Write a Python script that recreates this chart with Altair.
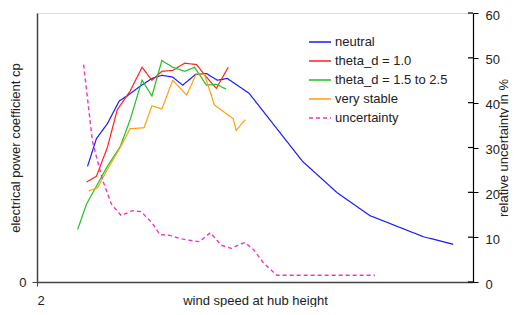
import altair as alt
import pandas as pd

# wind speed (m/s) and power coefficient cp per series
neutral_ws = [4.55, 5.0, 5.55, 6.15, 6.55, 7.15, 7.8, 8.3, 8.85, 9.35, 10.0, 10.55, 11.1, 11.6, 12.7, 15.4, 17.15, 18.8, 21.5, 23.0]
neutral_cp = [0.258, 0.320, 0.353, 0.404, 0.415, 0.435, 0.454, 0.461, 0.457, 0.439, 0.463, 0.465, 0.450, 0.454, 0.421, 0.269, 0.199, 0.148, 0.101, 0.084]

td1_ws = [4.5, 5.0, 5.55, 6.05, 6.7, 7.3, 7.8, 8.3, 8.85, 9.45, 10.05, 10.55, 11.05, 11.65]
td1_cp = [0.223, 0.236, 0.300, 0.384, 0.426, 0.479, 0.450, 0.470, 0.472, 0.488, 0.485, 0.457, 0.432, 0.479]

td2_ws = [4.05, 4.5, 5.05, 5.55, 6.2, 6.7, 7.3, 7.8, 8.3, 8.85, 9.45, 9.95, 10.55, 11.05, 11.55]
td2_cp = [0.117, 0.174, 0.218, 0.258, 0.302, 0.362, 0.450, 0.415, 0.494, 0.479, 0.470, 0.479, 0.439, 0.441, 0.430]

vs_ws = [4.6, 5.05, 5.55, 6.2, 6.7, 7.4, 7.8, 8.3, 8.85, 9.55, 10.05, 10.45, 10.95, 11.9, 12.05, 12.5]
vs_cp = [0.203, 0.210, 0.251, 0.300, 0.342, 0.344, 0.393, 0.386, 0.450, 0.417, 0.465, 0.463, 0.395, 0.364, 0.338, 0.362]

# relative uncertainty in %
unc_ws = [4.35, 4.8, 5.3, 5.75, 6.25, 6.8, 7.25, 7.8, 8.2, 8.7, 9.2, 9.7, 10.2, 10.75, 11.3, 11.8, 12.25, 12.5, 12.95, 13.4, 14.1, 19.05]
unc_pct = [48.5, 31.3, 22.9, 17.4, 14.8, 15.9, 15.7, 13.2, 10.6, 10.4, 9.7, 9.3, 9.0, 11.0, 8.2, 7.5, 8.4, 8.8, 7.1, 4.4, 1.5, 1.5]

series_names = ["neutral", "theta_d = 1.0", "theta_d = 1.5 to 2.5", "very stable", "uncertainty"]
series_colors = ["#1a1aff", "#ff2020", "#20c020", "#ffa010", "#ee33cc"]
series_dash = [[1, 0], [1, 0], [1, 0], [1, 0], [4, 3]]

right_ticks = [0, 10, 20, 30, 40, 50, 60]

rows = []
for name, xs, ys in [(series_names[0], neutral_ws, neutral_cp),
                     (series_names[1], td1_ws, td1_cp),
                     (series_names[2], td2_ws, td2_cp),
                     (series_names[3], vs_ws, vs_cp)]:
    for a, b in zip(xs, ys):
        rows.append({"ws": a, "cp": b, "series": name})
cp_df = pd.DataFrame(rows)
unc_df = pd.DataFrame({"ws": unc_ws, "pct": unc_pct, "series": series_names[4]})
tick_df = pd.DataFrame({"pct": right_ticks})

font = "Liberation Sans"


def make_legend():
    return alt.Legend(title=None, orient="none", legendX=271, legendY=17,
                      symbolType="stroke", symbolSize=484, symbolStrokeWidth=1.5,
                      labelFontSize=13, labelFont=font, labelColor="#222",
                      labelOffset=3, rowPadding=-3, padding=0)


xscale = alt.Scale(domain=[2, 24], nice=False, zero=False)
color = alt.Color("series:N", scale=alt.Scale(domain=series_names, range=series_colors),
                  legend=make_legend())
dash = alt.StrokeDash("series:N", scale=alt.Scale(domain=series_names, range=series_dash),
                      legend=make_legend())

xaxis = alt.Axis(values=[2], format="d", title="wind speed at hub height", grid=False,
                 domainColor="#444", domainWidth=1.5, tickColor="#444", tickSize=4,
                 labelPadding=8, labelFontSize=13, labelFont=font, labelColor="#222",
                 titleFontSize=13, titleFont=font, titleFontWeight="normal", titleColor="#222",
                 titleY=22, titleBaseline="alphabetic")

cp_layer = alt.Chart(cp_df).mark_line(strokeWidth=1.2).encode(
    x=alt.X("ws:Q", scale=xscale, axis=xaxis),
    y=alt.Y("cp:Q", scale=alt.Scale(domain=[0, 0.6], nice=False),
            axis=alt.Axis(values=[0], format=".0f", title="electrical power coefficient cp",
                          grid=False, orient="left", domainColor="#444", domainWidth=1.5,
                          tickColor="#444", tickSize=5, labelPadding=6, labelFontSize=13,
                          labelFont=font, labelColor="#222", titleFontSize=13, titleFont=font,
                          titleFontWeight="normal", titleColor="#222",
                          titleX=-22, titleBaseline="middle")),
    color=color,
    strokeDash=dash,
)

raxis = alt.Axis(values=right_ticks, title="relative uncertainty in %", orient="right", grid=False,
                 domainColor="#000", domainWidth=1.2, tickColor="#000", tickSize=5,
                 labelPadding=7, labelOffset=2, labelFontSize=13, labelFont=font, labelColor="#222",
                 titleFontSize=13, titleFont=font, titleFontWeight="normal", titleColor="#222",
                 titleAngle=270, titleX=30, titleBaseline="middle")
uscale = alt.Scale(domain=[0, 60], nice=False)

unc_line = alt.Chart(unc_df).mark_line(strokeWidth=1.4).encode(
    x=alt.X("ws:Q", scale=xscale, axis=xaxis),
    y=alt.Y("pct:Q", scale=uscale, axis=raxis),
    color=color,
    strokeDash=dash,
)
inner_ticks = alt.Chart(tick_df).mark_rule(color="#000", strokeWidth=1.2).encode(
    y=alt.Y("pct:Q", scale=uscale, axis=raxis),
    x=alt.value(431),
    x2=alt.value(436),
)
unc_layer = alt.layer(unc_line, inner_ticks)

chart = alt.layer(cp_layer, unc_layer).resolve_scale(y="independent").properties(
    width=436, height=269,
    autosize=alt.AutoSizeParams(type="none"),
    padding={"left": 29, "top": 5, "right": 36, "bottom": 25},
).configure_view(stroke="#888", strokeWidth=1).configure(background="white")

chart.save("out.html", embed_options={"renderer": "svg", "actions": False})
